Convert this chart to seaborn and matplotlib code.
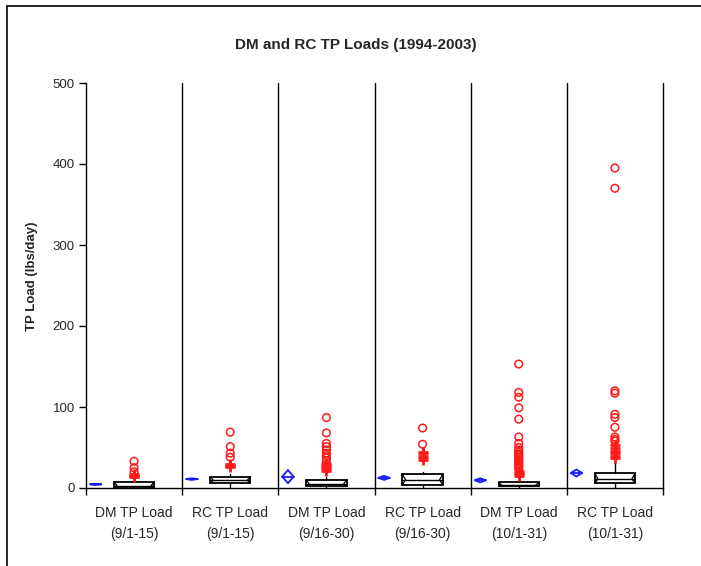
import numpy as np
import pandas as pd
import matplotlib
matplotlib.use("Agg")
import matplotlib.pyplot as plt
from matplotlib.patches import Rectangle
import seaborn as sns

# ---- data (lbs/day) ----
groups = ["DM TP Load\n(9/1-15)", "RC TP Load\n(9/1-15)",
          "DM TP Load\n(9/16-30)", "RC TP Load\n(9/16-30)",
          "DM TP Load\n(10/1-31)", "RC TP Load\n(10/1-31)"]

q1 = [1.2, 6.0, 2.5, 4.0, 2.0, 6.0]
median = [3.0, 9.5, 4.5, 10.0, 3.5, 11.0]
q3 = [7.4, 14.0, 10.0, 17.0, 7.0, 18.5]
whisker_low = [0.3, 1.0, 0.5, 1.0, 0.4, 1.0]
whisker_high = [13.0, 17.0, 13.0, 20.0, 13.0, 32.0]

near_outliers = [
    [14, 15, 16, 17],
    [26, 27, 28, 30],
    [21, 23, 25, 27, 29, 31],
    [34, 37, 40, 43, 45],
    [15, 17, 19, 21],
    [37, 40, 43, 46, 50, 53],
]
far_outliers = [
    [20, 25, 33],
    [38, 43, 51, 69],
    [34, 37, 40, 43, 47, 51, 55, 68, 87],
    [54, 74],
    [24, 26, 28, 30, 32, 34, 36, 38, 40, 42, 44, 47, 50, 55, 63, 85, 99, 112, 118, 153],
    [58, 60, 63, 75, 87, 91, 117, 120, 370, 395],
]

means = [4.5, 11.0, 14.0, 12.5, 9.5, 18.5]
mean_ci = [0.8, 1.0, 8.0, 2.5, 2.5, 4.3]

# ---- style ----
sns.set_style("white")
plt.rcParams["font.family"] = ["Liberation Sans", "DejaVu Sans"]

fig = plt.figure(figsize=(7.01, 5.66), dpi=100)
ax = fig.add_axes([86 / 701, 78 / 566, (663 - 86) / 701, (488 - 83) / 566])

centers = np.arange(len(groups)) + 0.5
box_w = 0.42

# box-and-whisker summaries
stats = []
for i in range(len(groups)):
    stats.append(dict(med=median[i], q1=q1[i], q3=q3[i],
                      whislo=whisker_low[i], whishi=whisker_high[i], fliers=[]))

ax.bxp(stats, positions=centers, widths=box_w, showcaps=False, showfliers=False,
       patch_artist=True,
       boxprops=dict(facecolor="white", edgecolor="black", lw=1.3),
       whiskerprops=dict(color="black", lw=1.0),
       medianprops=dict(color="black", lw=1.0))

# notch marks converging on the median
inset = 0.08 * box_w
for c, lo, md, hi in zip(centers, q1, median, q3):
    xl, xr = c - box_w / 2, c + box_w / 2
    ax.plot([xl, xl + inset, xl], [hi, md, lo], color="black", lw=0.9, zorder=3)
    ax.plot([xr, xr - inset, xr], [hi, md, lo], color="black", lw=0.9, zorder=3)

# outliers: near (+) and far (o)
near_df = pd.DataFrame([(centers[i], v) for i, vals in enumerate(near_outliers) for v in vals],
                       columns=["pos", "load"])
far_df = pd.DataFrame([(centers[i], v) for i, vals in enumerate(far_outliers) for v in vals],
                      columns=["pos", "load"])
sns.scatterplot(data=far_df, x="pos", y="load", ax=ax, marker="o", s=30,
                facecolors="none", edgecolor="#ff1a1a", linewidth=1.1, zorder=4)
sns.scatterplot(data=near_df, x="pos", y="load", ax=ax, marker="+", s=45,
                color="#ff1a1a", linewidth=2.0, zorder=4)

# mean diamonds with confidence range
dx = 0.06
for i, (m, c) in enumerate(zip(means, mean_ci)):
    x0 = centers[i] - 0.4
    ax.fill([x0 - dx, x0, x0 + dx, x0], [m, m + c, m, m - c],
            facecolor="white", edgecolor="#1a1aff", lw=1.3, zorder=5)
    ax.plot([x0 - dx, x0 + dx], [m, m], color="#1a1aff", lw=1.3, zorder=5)

# panel separators
for b in range(1, len(groups) + 1):
    ax.axvline(b, color="black", lw=1.0, zorder=1, clip_on=False)

ax.set_xlim(0, len(groups))
ax.set_ylim(0, 500)
ax.set_yticks(np.arange(0, 501, 100))
ax.set_xticks(np.arange(0, len(groups) + 1))
ax.set_xticklabels([])
ax.set_xticks(centers, minor=True)
ax.set_xticklabels(groups, minor=True, fontsize=10, linespacing=1.6)
ax.tick_params(axis="x", which="minor", length=0, pad=13)
ax.tick_params(axis="both", which="major", direction="out", length=5, width=1,
               color="black", labelsize=9.5, pad=3)
ax.tick_params(axis="y", which="major", left=True)
ax.tick_params(axis="x", which="major", bottom=True)
for s in ["top", "right"]:
    ax.spines[s].set_visible(False)
for s in ["left", "bottom"]:
    ax.spines[s].set_color("black")
    ax.spines[s].set_linewidth(1.0)

ax.set_xlabel("")
ax.set_ylabel("TP Load (lbs/day)", fontsize=9.5, fontweight="bold")
ax.yaxis.set_label_coords((38 - 86) / 577, (488 - 276) / 405)
fig.text(0.507, 1 - 45 / 566, "DM and RC TP Loads (1994-2003)",
         ha="center", va="center", fontsize=11, fontweight="bold")

# outer chart frame
fig.patches.append(Rectangle((7 / 701, -0.1), 1.2, (566 - 6) / 566 + 0.1,
                             transform=fig.transFigure, fill=False,
                             edgecolor="black", lw=1.2))

fig.savefig("out.png", dpi=100)
